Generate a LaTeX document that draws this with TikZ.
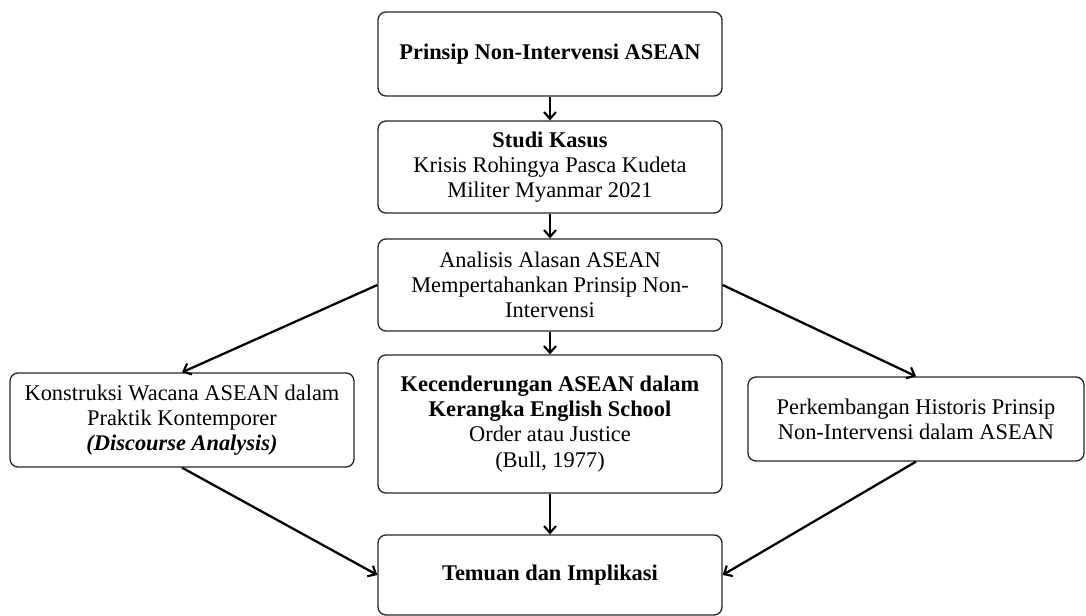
\documentclass[tikz,border=0pt]{standalone}
\usepackage{fontspec}
\setmainfont{Liberation Serif}
\usetikzlibrary{arrows.meta}
\begin{document}
\begin{tikzpicture}[x=0.75pt,y=-0.75pt,
  box/.style={draw=black!85,line width=1pt,rounded corners=6pt,align=center,inner sep=0pt,
    font=\fontsize{16.8}{18.9}\selectfont},
  conn/.style={line width=1.7pt,-{Straight Barb[length=5pt,width=9pt,line width=1.6pt]}}]
\useasboundingbox (0,0) rectangle (1086,616);
\node[box,minimum width=258pt,minimum height=63pt] (b1) at (550,54) {\textbf{Prinsip Non-Intervensi ASEAN}};
\node[box,minimum width=258pt,minimum height=69pt] (b2) at (550,167) {\textbf{Studi Kasus}\\Krisis Rohingya Pasca Kudeta\\Militer Myanmar 2021};
\node[box,minimum width=258pt,minimum height=69pt] (b3) at (550,285) {Analisis Alasan ASEAN\\Mempertahankan Prinsip Non-\\Intervensi};
\node[box,minimum width=258pt,minimum height=103.5pt] (c) at (550,424) {\textbf{Kecenderungan ASEAN dalam}\\\textbf{Kerangka English School}\\Order atau Justice\\(Bull, 1977)};
\node[box,minimum width=258pt,minimum height=70.5pt] (l) at (182,420) {Konstruksi Wacana ASEAN dalam\\Praktik Kontemporer\\\textbf{\textit{(Discourse Analysis)}}};
\node[box,minimum width=252pt,minimum height=63pt] (r) at (916,419) {Perkembangan Historis Prinsip\\Non-Intervensi dalam ASEAN};
\node[box,minimum width=258pt,minimum height=60pt] (t) at (550,575) {\textbf{Temuan dan Implikasi}};
\draw[conn] (b1) -- (b2);
\draw[conn] (b2) -- (b3);
\draw[conn] (b3) -- (c);
\draw[conn] (b3.west) -- (l.north);
\draw[conn] (b3.east) -- (r.north);
\draw[conn] (c) -- (t);
\draw[conn] (l.south) -- (t.west);
\draw[conn] (r.south) -- (t.east);
\end{tikzpicture}
\end{document}
